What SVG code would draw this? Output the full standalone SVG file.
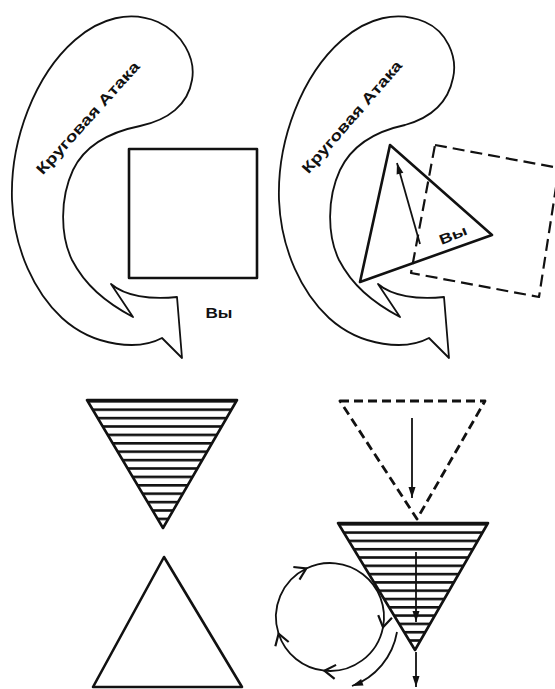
<svg xmlns="http://www.w3.org/2000/svg" width="555" height="689" viewBox="0 0 555 689">
<style>
.ln{fill:none;stroke:#111;stroke-linejoin:round;stroke-linecap:round}
.blob{stroke-width:1.8}
.thick{stroke-width:2.6}
.dash{stroke-dasharray:12 6;stroke-linecap:butt}
.dash2{stroke-dasharray:9 5;stroke-linecap:butt}
.lbl{font-family:"Liberation Sans",Arial,sans-serif;font-weight:bold;fill:#111}
.arr{fill:none;stroke:#111;stroke-width:1.8}
</style>
<defs>
<marker id="ah" markerUnits="userSpaceOnUse" markerWidth="12" markerHeight="8" refX="11" refY="3.5" orient="auto" overflow="visible">
<path d="M0,0 L11,3.5 L0,7 Z" fill="#111"/>
</marker>
<marker id="chev" markerUnits="userSpaceOnUse" markerWidth="14" markerHeight="16" refX="11" refY="7" orient="auto" overflow="visible">
<path d="M0,0 L11,7 L0,14" fill="none" stroke="#111" stroke-width="2.2"/>
</marker>
<pattern id="hatchA" patternUnits="userSpaceOnUse" x="0" y="400" width="20" height="8.4">
<rect x="0" y="0" width="20" height="2.6" fill="#111"/>
</pattern>
<pattern id="hatchB" patternUnits="userSpaceOnUse" x="0" y="523" width="20" height="8.3">
<rect x="0" y="0" width="20" height="2.6" fill="#111"/>
</pattern>
</defs>

<g id="blob-left">
<path class="ln blob" d="M182,358 L162,338 C140,350 95,348 62,318 C35,293 14,250 12,200 C10,140 35,75 75,40 C100,18 130,10 158,22 C182,33 196,58 192,80 C188,105 168,120 140,126 C110,132 85,145 73,170 C60,198 60,235 72,260 C85,285 105,302 133,317 L111,284 C125,296 150,300 177,297 Z"/>
<text class="lbl" font-size="15" text-anchor="middle" textLength="146" lengthAdjust="spacingAndGlyphs" transform="translate(88,118) rotate(-48)" y="5">Круговая Атака</text>
</g>

<g id="square-left">
<rect class="ln thick" x="129" y="149" width="128" height="129"/>
</g>

<g id="label-you-left">
<text class="lbl" font-size="14" x="219" y="318" text-anchor="middle" textLength="27" lengthAdjust="spacingAndGlyphs">Вы</text>
</g>

<g id="blob-right">
<path class="ln blob" d="M449,358 L429,338 C407,350 362,348 329,318 C302,293 281,250 279,200 C277,140 302,75 342,40 C367,18 397,10 425,22 C446,31 458,56 453,78 C448,103 430,118 405,125 C377,131 352,145 340,170 C327,198 327,235 339,260 C352,285 372,302 400,317 L378,284 C392,296 417,300 444,297 Z"/>
<text class="lbl" font-size="15" text-anchor="middle" textLength="144" lengthAdjust="spacingAndGlyphs" transform="translate(352,117) rotate(-49)" y="5">Круговая Атака</text>
</g>

<g id="dashed-square">
<path class="ln dash" stroke-width="2.2" d="M435,145 L559,168 L539,297 L411,273 Z"/>
</g>

<g id="triangle-right">
<path class="ln thick" d="M390,145 L492,235 L360,282 Z"/>
<text class="lbl" font-size="14" text-anchor="middle" textLength="29" lengthAdjust="spacingAndGlyphs" transform="translate(453,235) rotate(-22)" y="5">Вы</text>
</g>

<g id="hatched-triangle-left">
<path d="M87,400 L237,400 L163,528 Z" fill="url(#hatchA)"/>
<path class="ln thick" stroke-width="3" d="M87,400 L237,400 L163,528 Z"/>
</g>

<g id="triangle-up">
<path class="ln thick" d="M164,557 L242,687 L93,687 Z"/>
</g>

<g id="dashed-triangle">
<path class="ln dash2" stroke-width="2.8" d="M340,401 L485,401 L417,519 Z"/>
</g>

<g id="hatched-triangle-right">
<path d="M338,523 L488,523 L415,650 Z" fill="url(#hatchB)"/>
<path class="ln thick" stroke-width="3" d="M338,523 L488,523 L415,650 Z"/>
</g>

<g id="connectors">
<path class="arr" d="M420,244 L397,163" marker-end="url(#ah)"/>
<path class="arr" d="M412,418 L412,498" marker-end="url(#ah)"/>
<path class="arr" d="M416,552 L416,622" marker-end="url(#ah)"/>
<path class="arr" d="M416,652 L416,687" marker-end="url(#ah)"/>
<path class="arr" stroke-width="2.2" d="M278.6,633.7 A54,54 0 0 1 306.3,568.5" marker-end="url(#chev)"/>
<path class="arr" stroke-width="2.2" d="M306.3,568.5 A54,54 0 0 1 383,627.3" marker-end="url(#chev)"/>
<path class="arr" stroke-width="2.2" d="M383,627.3 A54,54 0 0 1 324.4,670.7" marker-end="url(#chev)"/>
<path class="arr" stroke-width="2.2" d="M324.4,670.7 A54,54 0 0 1 278.6,633.7" marker-end="url(#chev)"/>
<path class="arr" stroke-width="2.2" d="M397,632 A70,70 0 0 1 352,686" marker-end="url(#ah)"/>
</g>
</svg>
